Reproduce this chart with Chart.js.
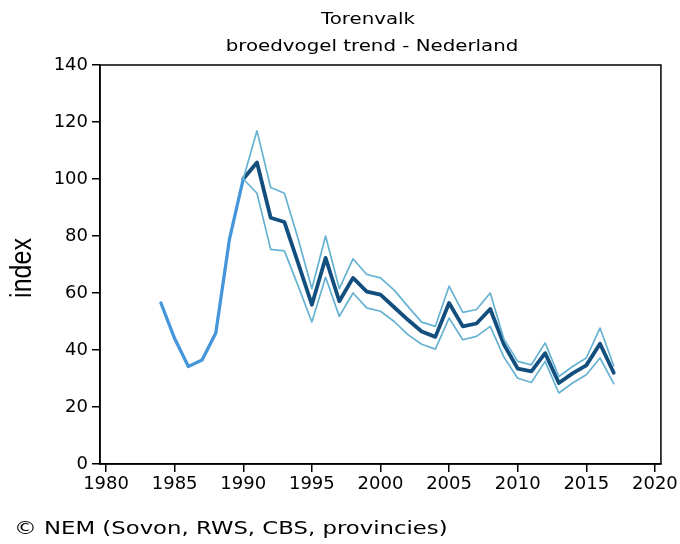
<!DOCTYPE html>
<html lang="nl">
<head>
    <meta charset="UTF-8">
    <title>Torenvalk - broedvogel trend</title>
    <script src="https://cdn.jsdelivr.net/npm/chart.js"></script>
    <style>
        * { margin: 0; padding: 0; }
        body { background: #fff; width: 680px; height: 544px; overflow: hidden; }
        #wrap { width: 680px; height: 544px; position: relative; }
    </style>
</head>
<body>
    <div id="wrap"><canvas id="trend"></canvas></div>

    <script>
        // years before 1990 (single index line, no bounds)
        const earlyYears = [1984, 1985, 1986, 1987, 1988, 1989, 1990];
        const earlyIndex = [56.5, 44, 34.2, 36.5, 46, 79, 100];

        // 1990 onwards: index with upper/lower bounds
        const years = [1990, 1991, 1992, 1993, 1994, 1995, 1996, 1997, 1998, 1999,
                       2000, 2001, 2002, 2003, 2004, 2005, 2006, 2007, 2008, 2009,
                       2010, 2011, 2012, 2013, 2014, 2015, 2016, 2017];
        const index = [100, 105.8, 86.4, 84.9, 70.5, 55.9, 72.3, 57.1, 65.3, 60.5,
                       59.4, 55, 50.6, 46.5, 44.6, 56.5, 48.3, 49.3, 54.4, 41.9,
                       33.5, 32.5, 38.9, 28.4, 31.8, 34.6, 42.2, 32];
        const upper = [100, 116.9, 97, 95, 79, 61.5, 80, 61.5, 72, 66.5,
                       65.3, 61, 55.3, 49.8, 48.3, 62.4, 53.2, 54.2, 60, 43.8,
                       36, 34.8, 42.5, 30.7, 34.2, 37.2, 47.7, 34.5];
        const lower = [100, 95, 75.3, 74.8, 62.5, 49.8, 65.5, 51.8, 60, 54.8,
                       53.6, 50, 45.4, 42, 40.3, 51.2, 43.6, 44.8, 48.3, 37.5,
                       30.1, 28.6, 36, 24.9, 28.4, 31.3, 37.2, 28.2];

        const xTicks = [1980, 1985, 1990, 1995, 2000, 2005, 2010, 2015, 2020];
        const yTicks = [0, 20, 40, 60, 80, 100, 120, 140];

        const pts = (xs, ys) => xs.map((x, i) => ({ x: x, y: ys[i] }));

        // the source picture is stretched sideways, so text is drawn a bit wider
        function wideText(ctx, text, x, y, sx, align) {
            ctx.save();
            ctx.translate(x, y);
            ctx.scale(sx, 1);
            ctx.textAlign = align;
            ctx.fillText(text, 0, 0);
            ctx.restore();
        }

        // title, footer, axis label and the closed frame
        const decorations = {
            id: 'decorations',
            afterDraw(chart) {
                const ctx = chart.ctx;
                const a = chart.chartArea;
                ctx.save();
                ctx.strokeStyle = '#000';
                ctx.lineWidth = 1.5;
                ctx.strokeRect(a.left, a.top, a.right - a.left, a.bottom - a.top);

                ctx.fillStyle = '#000';
                ctx.textBaseline = 'middle';
                ctx.font = '15px "DejaVu Sans"';
                wideText(ctx, 'Torenvalk', 368, 20, 1.32, 'center');
                wideText(ctx, 'broedvogel trend - Nederland', 372, 47, 1.32, 'center');

                ctx.font = '17px "DejaVu Sans"';
                wideText(ctx, '\u00a9 NEM (Sovon, RWS, CBS, provincies)', 14, 530, 1.34, 'left');

                ctx.translate(23, 268);
                ctx.rotate(-Math.PI / 2);
                ctx.scale(1, 1.15);
                ctx.textAlign = 'center';
                ctx.font = '25px "Liberation Sans"';
                ctx.fillText('index', 0, 0);
                ctx.restore();
            }
        };

        const ctx = document.getElementById('trend').getContext('2d');
        new Chart(ctx, {
            type: 'line',
            data: {
                datasets: [
                    { data: pts(years, upper), borderColor: '#66b2d2', borderWidth: 1.7 },
                    { data: pts(years, lower), borderColor: '#66b2d2', borderWidth: 1.7 },
                    { data: pts(earlyYears, earlyIndex), borderColor: '#4596da', borderWidth: 3.3 },
                    { data: pts(years, index), borderColor: '#134f7e', borderWidth: 3.8 }
                ]
            },
            options: {
                responsive: true,
                maintainAspectRatio: false,
                animation: false,
                events: [],
                layout: { padding: { left: 0, right: 19, top: 65, bottom: 40 } },
                elements: {
                    point: { radius: 0 },
                    line: { tension: 0, borderJoinStyle: 'round', borderCapStyle: 'round' }
                },
                plugins: {
                    legend: { display: false },
                    tooltip: { enabled: false },
                    title: { display: false }
                },
                scales: {
                    x: {
                        type: 'linear',
                        min: 1979.56,
                        max: 2020.44,
                        afterBuildTicks: s => { s.ticks = xTicks.map(v => ({ value: v })); },
                        afterFit: s => { s.height = 40; },
                        border: { display: true, color: '#000', width: 1.5 },
                        grid: { drawOnChartArea: false, drawTicks: true, tickLength: 8, color: '#000', lineWidth: 1.5 },
                        ticks: {
                            color: '#000',
                            font: { family: 'DejaVu Sans', size: 18 },
                            padding: 2,
                            maxRotation: 0,
                            callback: v => String(v)
                        }
                    },
                    y: {
                        min: 0,
                        max: 140,
                        afterBuildTicks: s => { s.ticks = yTicks.map(v => ({ value: v })); },
                        afterFit: s => { s.width = 100; },
                        border: { display: true, color: '#000', width: 1.5 },
                        grid: { drawOnChartArea: false, drawTicks: true, tickLength: 8, color: '#000', lineWidth: 1.5 },
                        ticks: {
                            color: '#000',
                            font: { family: 'DejaVu Sans', size: 18 },
                            padding: 4
                        }
                    }
                }
            },
            plugins: [decorations]
        });
    </script>
</body>
</html>
